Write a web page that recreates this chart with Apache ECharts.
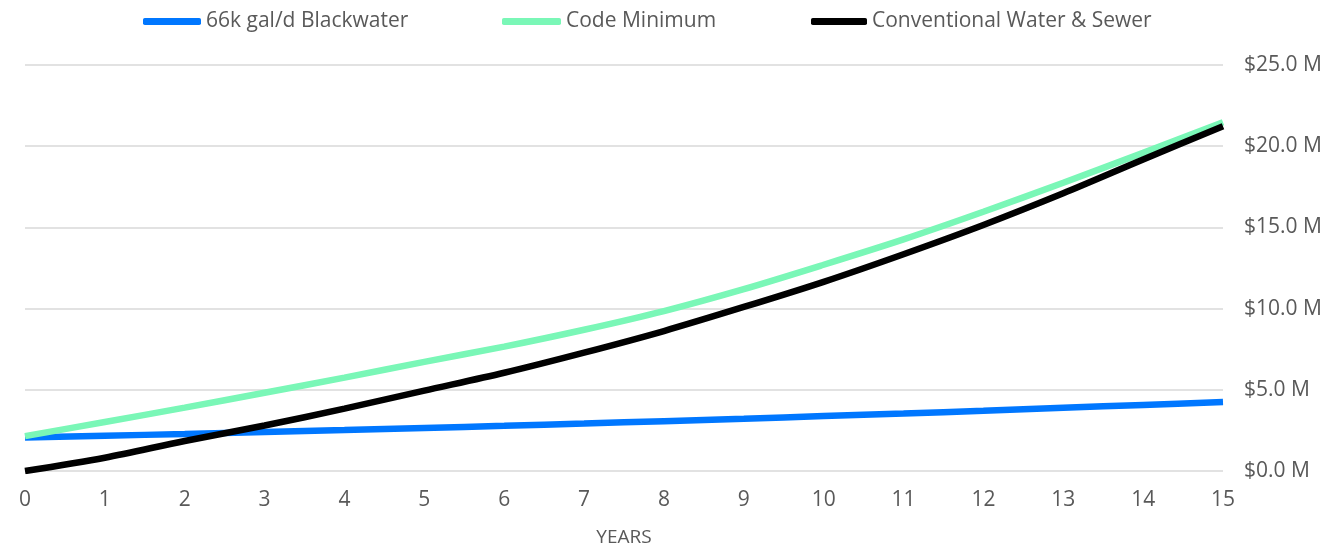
<!DOCTYPE html>
<html>
<head>
<meta charset="utf-8">
<script src="https://cdn.jsdelivr.net/npm/echarts@6/dist/echarts.min.js"></script>
<style>
  html, body { margin: 0; padding: 0; background: #fff; }
  #chart { width: 1340px; height: 552px; }
</style>
</head>
<body>
<div id="chart"></div>
<script>
  // years on the x axis
  var years = ['0','1','2','3','4','5','6','7','8','9','10','11','12','13','14','15'];
  // cumulative cost, $ millions
  var blackwater = [2.06, 2.17, 2.28, 2.40, 2.52, 2.65, 2.78, 2.92, 3.07, 3.22, 3.38, 3.54, 3.71, 3.89, 4.07, 4.25];
  var codeMinimum = [2.15, 3.02, 3.90, 4.82, 5.75, 6.72, 7.66, 8.70, 9.85, 11.2, 12.7, 14.26, 15.96, 17.75, 19.59, 21.48];
  var conventional = [0, 0.82, 1.85, 2.80, 3.84, 4.95, 6.05, 7.29, 8.62, 10.1, 11.65, 13.35, 15.15, 17.1, 19.18, 21.23];
  var seriesNames = ['66k gal/d Blackwater', 'Code Minimum', 'Conventional Water & Sewer'];
  var colors = ['#0077FF', '#7AF7B7', '#000000'];

  var fontFam = 'Open Sans, Noto Sans, sans-serif';
  var legendText = { color: '#595959', fontSize: 21, fontFamily: fontFam };

  // one legend per series so each sits where the original put it
  function legendFor(name, left, w) {
    return {
      data: [name],
      left: left,
      top: 6,
      itemWidth: w,
      itemHeight: 7,
      textStyle: legendText,
      icon: 'roundRect'
    };
  }

  var option = {
    color: colors,
    animation: false,
    legend: [
      legendFor(seriesNames[0], 138, 58),
      legendFor(seriesNames[1], 497, 59),
      legendFor(seriesNames[2], 806, 56)
    ],
    grid: { left: 25, right: 117, top: 65, bottom: 80 },
    xAxis: {
      type: 'category',
      data: years,
      boundaryGap: false,
      name: 'YEARS',
      nameLocation: 'middle',
      nameGap: 57,
      nameTextStyle: { color: '#595959', fontSize: 19, fontFamily: fontFam },
      axisLine: { show: false },
      axisTick: { show: false },
      axisLabel: { color: '#595959', fontSize: 21, fontFamily: fontFam, margin: 19 }
    },
    yAxis: {
      type: 'value',
      position: 'right',
      min: 0,
      max: 25,
      interval: 5,
      axisLine: { show: false },
      axisTick: { show: false },
      axisLabel: {
        color: '#595959', fontSize: 21, fontFamily: fontFam, margin: 21, align: 'left',
        formatter: function (v) { return '$' + v.toFixed(1) + ' M'; }
      },
      splitLine: { lineStyle: { color: '#D9D9D9', width: 1.5 } }
    },
    series: [
      { name: seriesNames[0], type: 'line', data: blackwater, smooth: 0.3, symbol: 'none', lineStyle: { width: 6.5 } },
      { name: seriesNames[1], type: 'line', data: codeMinimum, smooth: 0.3, symbol: 'none', lineStyle: { width: 6.5 } },
      { name: seriesNames[2], type: 'line', data: conventional, smooth: 0.3, symbol: 'none', lineStyle: { width: 6.5 } }
    ]
  };

  echarts.init(document.getElementById('chart')).setOption(option);
</script>
</body>
</html>
